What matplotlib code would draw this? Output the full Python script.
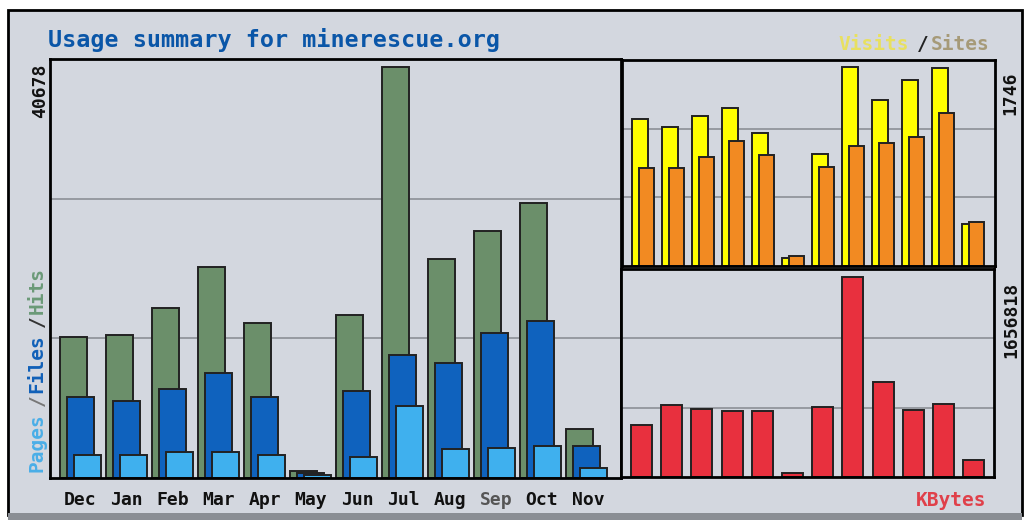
import numpy as np
import matplotlib.pyplot as plt
from matplotlib.patches import Rectangle

months = ["Dec", "Jan", "Feb", "Mar", "Apr", "May", "Jun", "Jul", "Aug", "Sep", "Oct", "Nov"]
hits = [13960, 14160, 16830, 20890, 15345, 700, 16140, 40678, 21680, 24450, 27220, 4850]
files = [8020, 7620, 8810, 10400, 8020, 500, 8610, 12180, 11390, 14360, 15540, 3170]
pages = [2280, 2280, 2570, 2570, 2280, 300, 2080, 7130, 2870, 2970, 3170, 990]
visits = [1288, 1217, 1314, 1385, 1164, 70, 979, 1746, 1455, 1632, 1737, 370]
sites = [864, 864, 953, 1094, 970, 88, 873, 1050, 1076, 1129, 1341, 388]
kbytes = [430800, 596500, 563300, 546700, 546700, 30000, 580000, 1656818, 787000, 555000, 604700, 140800]

W, H = 1030, 520
BG = "#d3d7df"
MONO = "DejaVu Sans Mono"

fig = plt.figure(figsize=(W / 100, H / 100), dpi=100)
fig.patch.set_facecolor("white")

def px(x0, y0, x1, y1):
    # pixel box (top-left origin) -> figure fraction rect
    return [x0 / W, 1 - y1 / H, (x1 - x0) / W, (y1 - y0) / H]

# outer panel
bg = fig.add_axes([0, 0, 1, 1])
bg.set_xlim(0, W)
bg.set_ylim(H, 0)
bg.axis("off")
bg.add_patch(Rectangle((8, 10), 1014, 505, facecolor=BG, edgecolor="black", lw=2))
bg.add_patch(Rectangle((8, 513), 1014, 7, facecolor="#8a8e94", edgecolor="none"))

def setup(ax, ymax):
    ax.set_facecolor(BG)
    ax.set_ylim(0, ymax)
    for g in (ymax / 3, 2 * ymax / 3):
        ax.axhline(g, color="#8c8f96", lw=1.2, zorder=0)
    ax.set_xticks([])
    ax.set_yticks([])
    for s in ax.spines.values():
        s.set_linewidth(2)
        s.set_color("black")

x = np.arange(12)

# left: hits / files / pages
ax1 = fig.add_axes(px(50, 59, 621, 478))
setup(ax1, max(hits) * 419 / 411)
ax1.set_xlim(0, 571 / 46)
w = 27 / 46
o = 7 / 46
s0 = 10 / 46
ax1.bar(x + s0, hits, w, align="edge", color="#6b8f6a", edgecolor="#222", lw=1.4)
ax1.bar(x + s0 + o, files, w, align="edge", color="#0f62be", edgecolor="#222", lw=1.4)
ax1.bar(x + s0 + 2 * o, pages, w, align="edge", color="#3fb0ee", edgecolor="#222", lw=1.4)

# top right: visits / sites
ax2 = fig.add_axes(px(622, 60, 995, 266))
setup(ax2, max(visits) * 206 / 199)
ax2.set_xlim(0, 373 / 30)
ax2.bar(x + 10 / 30, visits, 16 / 30, align="edge", color="#ffff00", edgecolor="#222", lw=1.4)
ax2.bar(x + 17 / 30, sites, 15 / 30, align="edge", color="#f28a22", edgecolor="#222", lw=1.4)

# bottom right: kbytes
ax3 = fig.add_axes(px(621, 269, 994, 477))
setup(ax3, max(kbytes) * 208 / 200)
ax3.set_xlim(0, 373 / 30.2)
ax3.bar(x + 10 / 30.2, kbytes, 21 / 30.2, align="edge", color="#e8303e", edgecolor="#222", lw=1.4)

# texts (pixel coordinates on bg axes)
bg.text(48, 40, "Usage summary for minerescue.org", color="#0a56a8", fontsize=16.8,
        family=MONO, weight="bold", va="center", ha="left")

for i, m in enumerate(months):
    cx = 80 + i * 46.2
    bg.text(cx, 500, m, color="#555" if m == "Sep" else "#111", fontsize=13,
            family=MONO, weight="bold", ha="center", va="center")

bg.text(40, 91, f"{max(hits)}", rotation=90, fontsize=13, family=MONO, weight="bold",
        ha="center", va="center", color="#111")
bg.text(1010, 93, f"{max(visits)}", rotation=90, fontsize=13, family=MONO, weight="bold",
        ha="center", va="center", color="#111")
bg.text(1011, 320, f"{max(kbytes)}", rotation=90, fontsize=13, family=MONO, weight="bold",
        ha="center", va="center", color="#111")

# legend strings built char by char (mono)
cw = 13.2
def hstring(x0, y, parts):
    xx = x0
    for t, c in parts:
        bg.text(xx, y, t, color=c, fontsize=14, family=MONO, weight="bold", ha="left", va="center")
        xx += cw * len(t)

def vstring(xc, y0, parts):
    yy = y0
    for t, c in parts:
        bg.text(xc, yy, t, color=c, fontsize=14, family=MONO, weight="bold", rotation=90,
                ha="center", va="bottom")
        yy -= cw * len(t)

hstring(838, 44, [("Visits", "#e8e060"), ("/", "#222"), ("Sites", "#a69a78")])
hstring(916, 500, [("KBytes", "#e0404a")])
vstring(37, 472, [("Pages", "#4aaee8"), ("/", "#777"), ("Files", "#1060b8"), ("/", "#333"), ("Hits", "#6b9a78")])

fig.savefig("out.png", dpi=100, facecolor=fig.get_facecolor())
